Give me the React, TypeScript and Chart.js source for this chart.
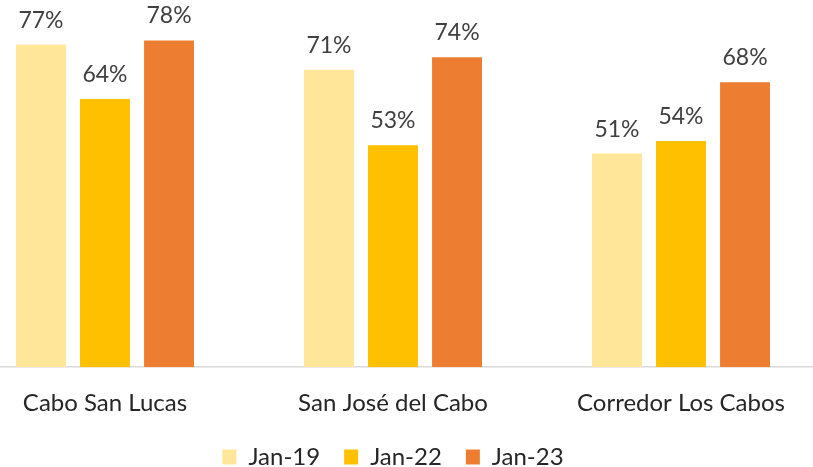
import React, { useEffect, useRef } from "react";
import { Chart, registerables } from "chart.js";

Chart.register(...registerables);

const categories = ["Cabo San Lucas", "San José del Cabo", "Corredor Los Cabos"];
const seriesNames = ["Jan-19", "Jan-22", "Jan-23"];
const jan19 = [77, 71, 51];
const jan22 = [64, 53, 54];
const jan23 = [78, 74, 68];
const seriesColors = ["#FFE699", "#FFC000", "#ED7D31"];

const FONT = "Lato, 'Noto Sans', sans-serif";

const valueLabels = {
  id: "valueLabels",
  afterDatasetsDraw(chart: any) {
    const ctx = chart.ctx;
    ctx.save();
    ctx.font = `23px ${FONT}`;
    ctx.fillStyle = "#404040";
    ctx.textAlign = "center";
    ctx.textBaseline = "alphabetic";
    chart.data.datasets.forEach((ds: any, di: number) => {
      const meta = chart.getDatasetMeta(di);
      meta.data.forEach((el: any, i: number) => {
        ctx.fillText(`${ds.data[i]}%`, el.x, el.y - 17);
      });
    });
    ctx.restore();
  },
};

export default function App() {
  const ref = useRef<HTMLCanvasElement>(null);
  useEffect(() => {
    if (!ref.current) return;
    const series = [jan19, jan22, jan23];
    const chart = new Chart(ref.current, {
      type: "bar",
      data: {
        labels: categories,
        datasets: seriesNames.map((n, i) => ({
          label: n,
          data: series[i],
          backgroundColor: seriesColors[i],
          borderWidth: 0,
          categoryPercentage: 0.667,
          barPercentage: 0.78,
        })),
      },
      options: {
        responsive: false,
        animation: false,
        devicePixelRatio: 1,
        layout: { padding: { top: 32, bottom: 0, left: 0, right: 0 } },
        scales: {
          x: {
            grid: { display: false, drawTicks: false },
            border: { display: true, color: "#D9D9D9", width: 1.5 },
            ticks: {
              color: "#262626",
              font: { family: FONT, size: 24 },
              padding: 22,
            },
            afterFit: (scale: any) => {
              scale.height -= 19;
            },
          },
          y: {
            display: false,
            min: 0,
            max: 80,
          },
        },
        plugins: {
          legend: {
            position: "bottom",
            labels: {
              color: "#262626",
              font: { family: FONT, size: 24 },
              boxWidth: 14,
              boxHeight: 15,
              padding: 24,
            },
          },
          tooltip: { enabled: false },
        },
      },
      plugins: [valueLabels],
    });
    return () => chart.destroy();
  }, []);
  return (
    <div
      style={{
        position: "fixed",
        left: 0,
        top: 0,
        width: 813,
        height: 467,
        overflow: "hidden",
        background: "#fff",
      }}
    >
      <canvas
        ref={ref}
        width={864}
        height={479}
        style={{ position: "absolute", left: -39, top: 0, width: 864, height: 479 }}
      />
    </div>
  );
}
